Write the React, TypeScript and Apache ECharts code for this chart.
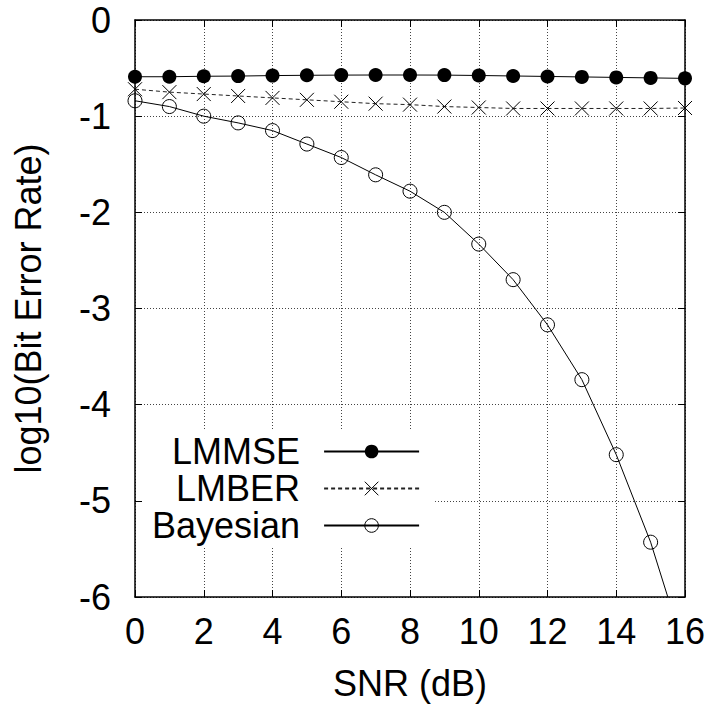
import React, { useEffect, useRef } from "react";
import * as echarts from "echarts";

const snr = [0, 1, 2, 3, 4, 5, 6, 7, 8, 9, 10, 11, 12, 13, 14, 15, 16];
const lmmse = [-0.59, -0.59, -0.585, -0.583, -0.578, -0.575, -0.573, -0.572, -0.572, -0.573, -0.577, -0.582, -0.587, -0.592, -0.597, -0.602, -0.607];
const lmber = [-0.72, -0.75, -0.77, -0.79, -0.81, -0.83, -0.85, -0.87, -0.88, -0.9, -0.91, -0.92, -0.92, -0.92, -0.92, -0.92, -0.915];
const bayesian = [-0.84, -0.9, -1.0, -1.07, -1.15, -1.29, -1.43, -1.61, -1.78, -2.0, -2.33, -2.7, -3.17, -3.74, -4.52, -5.43, -6.57];

const FONT = "'Liberation Sans', Arial, Helvetica, sans-serif";

export default function App() {
  const ref = useRef<HTMLDivElement>(null);
  useEffect(() => {
    if (!ref.current) return;
    const chart = echarts.init(ref.current, null, { renderer: "svg" });
    const pair = (ys: number[]) => snr.map((x, i) => [x, ys[i]]);
    const tick = { show: true, inside: true, length: 7, lineStyle: { color: "#000", width: 1 } };
    const axLine = { show: true, onZero: false, lineStyle: { color: "#000", width: 1.5 } };
    const grid = { show: true, lineStyle: { color: "#444", width: 1, type: [1, 2] as any } };
    chart.setOption({
      animation: false,
      backgroundColor: "#fff",
      textStyle: { fontFamily: FONT },
      grid: { left: 135, right: 29, top: 20, bottom: 116 },
      legend: {
        orient: "vertical",
        align: "right",
        left: 144,
        top: 430,
        padding: [3, 15, 3, 8],
        backgroundColor: "#fff",
        itemWidth: 95,
        itemHeight: 17,
        itemGap: 0,
        selectedMode: false,
        formatter: "{a|{name}}",
        itemStyle: { borderWidth: 1 },
        textStyle: {
          fontFamily: FONT,
          fontSize: 36,
          color: "#000",
          lineHeight: 37,
          rich: { a: { fontFamily: FONT, fontSize: 36, color: "#000", lineHeight: 37, padding: [0, 19, 0, 0] } },
        },
        data: ["LMMSE", "LMBER", "Bayesian"],
      },
      xAxis: [
        {
          type: "value",
          min: 0,
          max: 16,
          interval: 2,
          name: "SNR (dB)",
          nameLocation: "middle",
          nameGap: 68,
          nameTextStyle: { fontFamily: FONT, fontSize: 36, color: "#000" },
          axisLine: axLine,
          axisTick: tick,
          axisLabel: { fontFamily: FONT, fontSize: 36, color: "#000", margin: 16 },
          splitLine: grid,
        },
        {
          type: "value",
          position: "top",
          min: 0,
          max: 16,
          interval: 2,
          axisLine: axLine,
          axisTick: tick,
          axisLabel: { show: false },
          splitLine: { show: false },
        },
      ],
      yAxis: [
        {
          type: "value",
          min: -6,
          max: 0,
          interval: 1,
          name: "log10(Bit Error Rate)",
          nameLocation: "middle",
          nameGap: 89,
          nameTextStyle: { fontFamily: FONT, fontSize: 36, color: "#000" },
          axisLine: axLine,
          axisTick: tick,
          axisLabel: { fontFamily: FONT, fontSize: 36, color: "#000", margin: 24 },
          splitLine: grid,
        },
        {
          type: "value",
          position: "right",
          min: -6,
          max: 0,
          interval: 1,
          axisLine: axLine,
          axisTick: tick,
          axisLabel: { show: false },
          splitLine: { show: false },
        },
      ],
      series: [
        {
          name: "LMMSE",
          type: "line",
          data: pair(lmmse),
          symbol: "circle",
          symbolSize: 14,
          clip: true,
          itemStyle: { color: "#000" },
          lineStyle: { color: "#000", width: 1 },
          z: 4,
        },
        {
          name: "LMBER",
          type: "line",
          data: pair(lmber),
          symbol: "path://M0,0L10,10M10,0L0,10",
          symbolSize: 14,
          clip: true,
          itemStyle: { color: "transparent", borderColor: "#000", borderWidth: 1 },
          lineStyle: { color: "#222", width: 1, type: [4, 3] },
          z: 3,
        },
        {
          name: "Bayesian",
          type: "line",
          data: pair(bayesian),
          symbol: "circle",
          symbolSize: 14,
          clip: true,
          itemStyle: { color: "transparent", borderColor: "#000", borderWidth: 1 },
          lineStyle: { color: "#000", width: 1 },
          z: 2,
        },
      ],
    });
    return () => chart.dispose();
  }, []);
  return <div ref={ref} style={{ position: "fixed", left: 0, top: 0, width: 714, height: 713 }} />;
}
